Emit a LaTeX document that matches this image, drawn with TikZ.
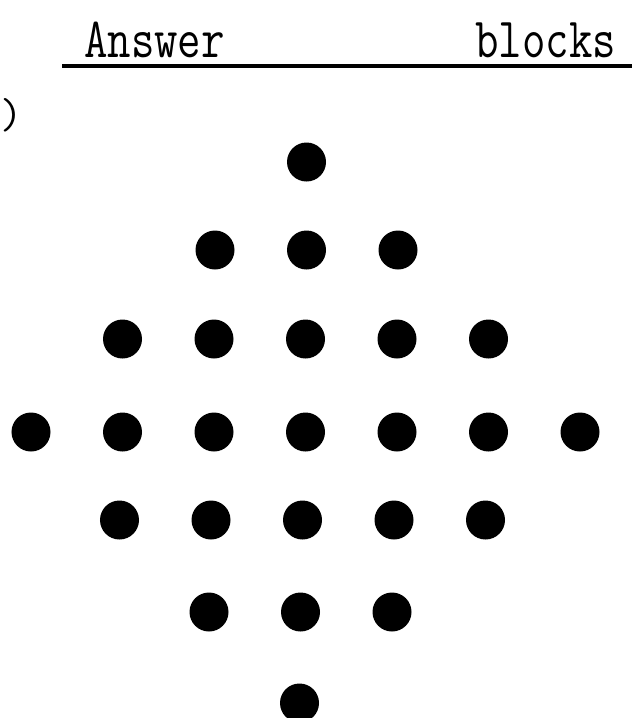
\documentclass[tikz,border=0pt]{standalone}
\usepackage{tikz}
\usetikzlibrary{positioning}
\tikzset{
  blob/.style={circle, fill=black, inner sep=0pt, minimum size=1.17cm},
  heading/.style={inner sep=0pt, font=\fontsize{37}{40}\selectfont\ttfamily},
  hline/.style={line width=3.4pt, color=black}
}

\begin{document}
\begin{tikzpicture}[x=0.03cm, y=-0.03cm]
  % page frame (pixel units, y down)
  \useasboundingbox (0,0) rectangle (632,718);
  % heading over the rule
  \node[heading, anchor=base west] (answer) at (84,57) {\scalebox{1.05}[1.31]{Answer}};
  \node[heading, anchor=base west] (blocks) at (475,57) {\scalebox{1.05}[1.31]{blocks}};
  \coordinate (ruleL) at (62,66);
  \coordinate (ruleR) at (632,66);
  \draw[hline] (ruleL) -- (ruleR);
  \node[heading, anchor=west] (paren) at (0,115) {)};
  % diamond of dots, row by row
  \foreach \r/\y/\dx in {0/162/1, 1/250/1, 2/339/0, 3/432/0, 4/520/-3, 5/612/-5, 6/703/-6} {
    \pgfmathtruncatemacro{\lo}{abs(\r-3)}
    \pgfmathtruncatemacro{\hi}{6-abs(\r-3)}
    \foreach \c in {\lo,...,\hi}
      \node[blob] (dot-\r-\c) at ({31+91.5*\c+\dx},\y) {};
  }
\end{tikzpicture}
\end{document}
